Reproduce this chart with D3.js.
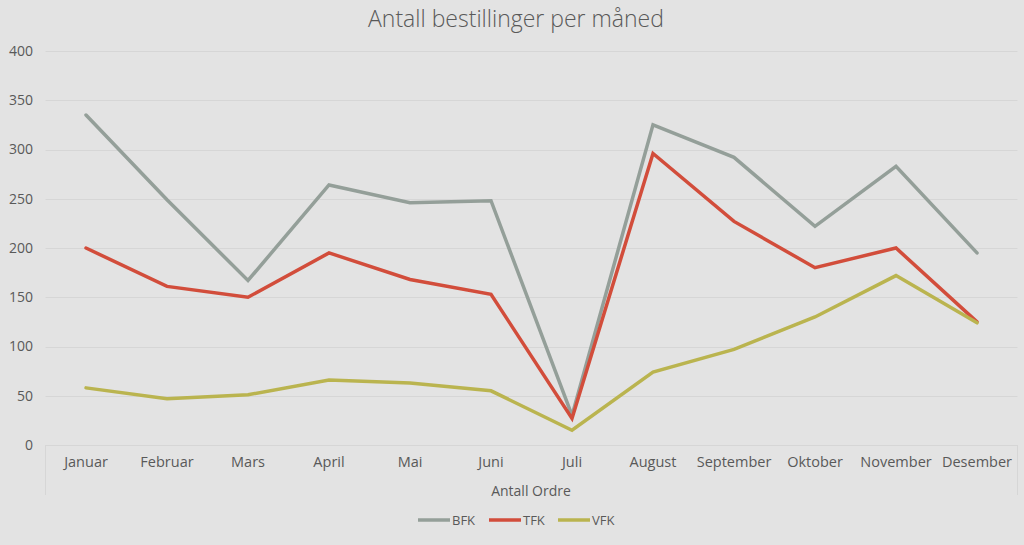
<!DOCTYPE html>
<html><head><meta charset="utf-8">
<script src="https://cdn.jsdelivr.net/npm/d3@7"></script>
<style>
html,body{margin:0;padding:0;background:#e3e3e3;}
svg{display:block;}
text{font-family:"Open Sans",sans-serif;fill:#595959;}
</style></head>
<body>
<svg id="chart" width="1024" height="545"></svg>
<script>
const months = ["Januar","Februar","Mars","April","Mai","Juni","Juli","August","September","Oktober","November","Desember"];
const bfk = [335,249,167,264,246,248,30,325,292,222,283,195];
const tfk = [200,161,150,195,168,153,27,296,227,180,200,125];
const vfk = [58,47,51,66,63,55,15,74,97,130,172,124];
const seriesNames = ["BFK","TFK","VFK"];
const seriesColors = ["#949f99","#d24d3b","#bab44f"];
const yTicks = [0,50,100,150,200,250,300,350,400];

(function(){
const svg = d3.select("#chart");
const W = 1024, H = 545;
svg.append("rect").attr("width",W).attr("height",H).attr("fill","#e3e3e3");

const pLeft = 45.5, pRight = 1017.5, pTop = 51, pBottom = 445;
const x = d3.scaleBand().domain(months).range([pLeft,pRight]);
const y = d3.scaleLinear().domain([0,400]).range([pBottom,pTop]);

// gridlines
svg.append("g").selectAll("line").data(yTicks).join("line")
  .attr("x1",pLeft).attr("x2",pRight)
  .attr("y1",d=>Math.round(y(d))+0.5).attr("y2",d=>Math.round(y(d))+0.5)
  .attr("stroke","#d6d6d6").attr("stroke-width",1);

// y axis labels
const yAxis = svg.append("g").attr("transform",`translate(33,0)`)
  .call(d3.axisLeft(y).tickValues(yTicks).tickSize(0).tickPadding(0));
yAxis.select(".domain").remove();
yAxis.selectAll("text").attr("font-size",14).attr("fill","#595959")
  .style("font-family","'Open Sans',sans-serif");

// category box edges
[pLeft,pRight].forEach(xx=>{
  svg.append("line").attr("x1",Math.round(xx)-0.5).attr("x2",Math.round(xx)-0.5)
    .attr("y1",pBottom).attr("y2",495).attr("stroke","#d6d6d6");
});

// x axis labels
const xAxis = svg.append("g").attr("transform",`translate(0,${pBottom})`)
  .call(d3.axisBottom(x).tickSize(0).tickPadding(12));
xAxis.select(".domain").remove();
xAxis.selectAll("text").attr("font-size",14.5).attr("fill","#595959")
  .style("font-family","'Open Sans',sans-serif");

// title
svg.append("text").attr("x",516).attr("y",27).attr("text-anchor","middle")
  .attr("font-size",23).attr("font-weight",300).attr("fill","#4a4a4a")
  .text("Antall bestillinger per måned");
// x axis title
svg.append("text").attr("x",531).attr("y",496).attr("text-anchor","middle")
  .attr("font-size",14).text("Antall Ordre");

// lines
const data = [bfk,tfk,vfk];
const line = d3.line().x((d,i)=>x(months[i])+x.bandwidth()/2).y(d=>y(d));
svg.append("g").selectAll("path").data(data).join("path")
  .attr("d",line).attr("fill","none")
  .attr("stroke",(d,i)=>seriesColors[i]).attr("stroke-width",3.5)
  .attr("stroke-linejoin","miter").attr("stroke-linecap","round");

// legend
const legX = [418,489,558];
const leg = svg.append("g");
seriesNames.forEach((n,i)=>{
  leg.append("line").attr("x1",legX[i]).attr("x2",legX[i]+32).attr("y1",520).attr("y2",520)
    .attr("stroke",seriesColors[i]).attr("stroke-width",3.5);
  leg.append("text").attr("x",legX[i]+34).attr("y",525).attr("font-size",13).text(n);
});
})();
</script>
</body></html>
